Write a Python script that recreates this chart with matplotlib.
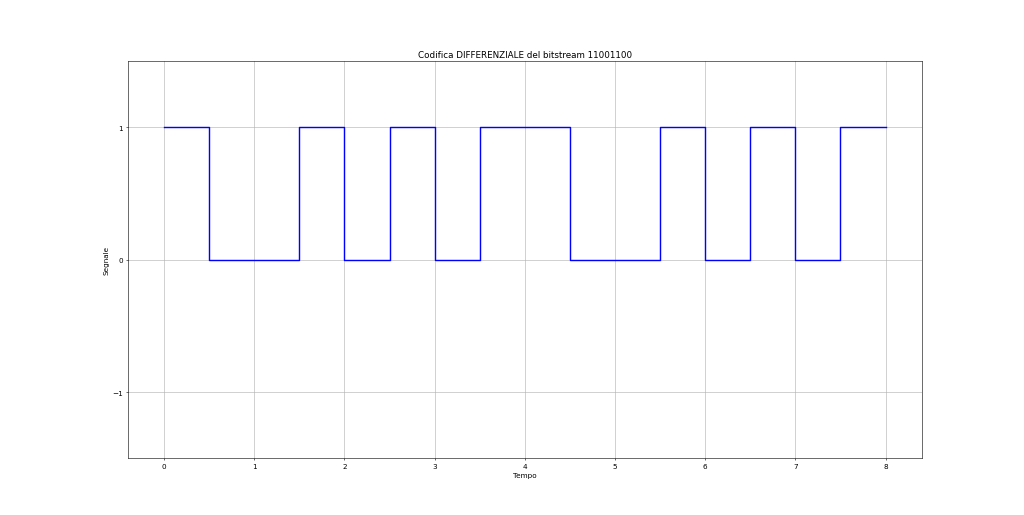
import matplotlib
matplotlib.use("Agg")
import matplotlib.pyplot as plt
import numpy as np

plt.rcParams['font.size'] = 10.3

bitstream = "11001100"
times = [0, 0.5, 1, 1.5, 2, 2.5, 3, 3.5, 4, 4.5, 5, 5.5, 6, 6.5, 7, 7.5, 8]
signal = [1, 0, 0, 1, 0, 1, 0, 1, 1, 0, 0, 1, 0, 1, 0, 1, 1]

fig, ax = plt.subplots(figsize=(20, 10.078), dpi=51.2)
ax.step(times, signal, where='post', color='blue', linewidth=2)
ax.set_title(f"Codifica DIFFERENZIALE del bitstream {bitstream}")
ax.set_xlabel("Tempo")
ax.set_ylabel("Segnale")
ax.set_ylim(-1.5, 1.5)
ax.set_yticks([-1, 0, 1])
ax.set_xticks(range(0, 9))
ax.grid(True)
fig.savefig("out.png", dpi=51.2)
